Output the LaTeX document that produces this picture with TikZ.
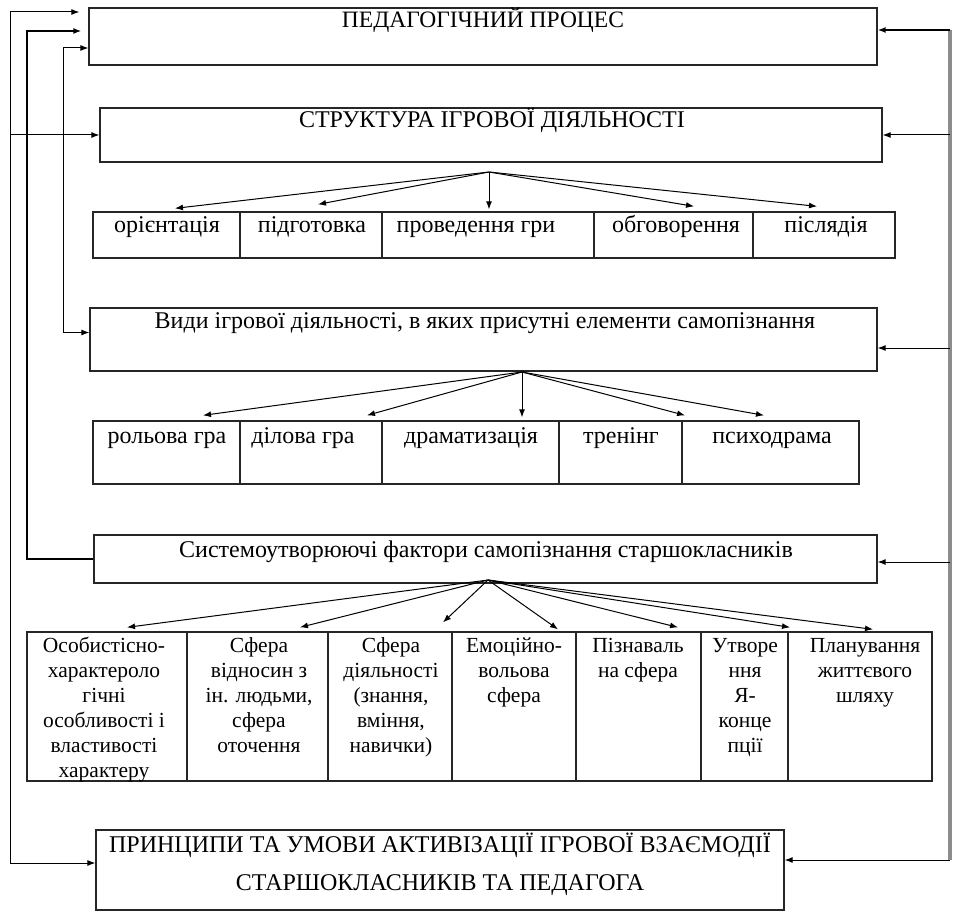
\documentclass[tikz,border=0pt]{standalone}
\usepackage{fontspec}
\setmainfont{Liberation Serif}
\usetikzlibrary{arrows.meta}

\begin{document}
\begin{tikzpicture}[x=1pt, y=-1pt,
	box/.style={draw=black!85, line width=1.3pt, inner sep=0pt},
	txt/.style={anchor=base, inner sep=0pt, font=\fontsize{24}{28}\selectfont},
	cell/.style={anchor=north, inner sep=0pt, align=center, font=\fontsize{21.5}{25}\selectfont},
	arr/.style={-{Latex[length=8pt,width=6pt]}, line width=1pt},
	twoway/.style={{Latex[length=8pt,width=6pt]}-{Latex[length=8pt,width=6pt]}, line width=1pt}]
	\useasboundingbox (0,0) rectangle (957,912);
	\node[box, minimum width=788pt, minimum height=57pt] (proc) at (483,36.5) {};
	\node[box, minimum width=782pt, minimum height=54pt] (struct) at (491,135) {};
		\node[box, minimum width=147pt, minimum height=46pt] (o1) at (166.5,235) {};
		\node[box, minimum width=142pt, minimum height=46pt] (o2) at (311,235) {};
		\node[box, minimum width=212pt, minimum height=46pt] (o3) at (488,235) {};
		\node[box, minimum width=159pt, minimum height=46pt] (o4) at (673.5,235) {};
		\node[box, minimum width=142pt, minimum height=46pt] (o5) at (824,235) {};
	\node[box, minimum width=787pt, minimum height=63pt] (kinds) at (483.5,339.5) {};
		\node[box, minimum width=147pt, minimum height=63pt] (k1) at (166.5,452.5) {};
		\node[box, minimum width=142pt, minimum height=63pt] (k2) at (311,452.5) {};
		\node[box, minimum width=177pt, minimum height=63pt] (k3) at (470.5,452.5) {};
		\node[box, minimum width=123pt, minimum height=63pt] (k4) at (620.5,452.5) {};
		\node[box, minimum width=177pt, minimum height=63pt] (k5) at (770.5,452.5) {};
	\node[box, minimum width=783pt, minimum height=48pt] (sys) at (485.5,559) {};
		\node[box, minimum width=160pt, minimum height=149pt] (s1) at (107,706.5) {};
		\node[box, minimum width=141pt, minimum height=149pt] (s2) at (257.5,706.5) {};
		\node[box, minimum width=124pt, minimum height=149pt] (s3) at (390,706.5) {};
		\node[box, minimum width=124pt, minimum height=149pt] (s4) at (514,706.5) {};
		\node[box, minimum width=125pt, minimum height=149pt] (s5) at (638.5,706.5) {};
		\node[box, minimum width=87pt, minimum height=149pt] (s6) at (744.5,706.5) {};
		\node[box, minimum width=144pt, minimum height=149pt] (s7) at (860,706.5) {};
	\node[box, minimum width=688pt, minimum height=80pt] (princ) at (440,870) {};

	\node[txt, font=\fontsize{23.5}{28}\selectfont] (tproc) at (483,28) {ПЕДАГОГІЧНИЙ ПРОЦЕС};
	\node[txt] (tstruct) at (492,128) {СТРУКТУРА ІГРОВОЇ ДІЯЛЬНОСТІ};
		\node[txt] (to1) at (167,232) {орієнтація};
		\node[txt] (to2) at (312,232) {підготовка};
		\node[txt] (to3) at (476,232) {проведення гри};
		\node[txt] (to4) at (676,232) {обговорення};
		\node[txt] (to5) at (826,232) {післядія};
	\node[txt] (tkinds) at (485,328) {Види ігрової діяльності, в яких присутні елементи самопізнання};
		\node[txt] (tk1) at (167,443) {рольова гра};
		\node[txt] (tk2) at (303,443) {ділова гра};
		\node[txt] (tk3) at (471,443) {драматизація};
		\node[txt] (tk4) at (621,443) {тренінг};
		\node[txt] (tk5) at (772,443) {психодрама};
	\node[txt] (tsys) at (486,557) {Системоутворюючі фактори самопізнання старшокласників};
		\node[cell] (ts1) at (104,634.5) {\strut Особистісно-\\характероло\\гічні\\особливості і\\властивості\\характеру};
		\node[cell] (ts2) at (259,634.5) {\strut Сфера\\відносин з\\ін. людьми,\\сфера\\оточення};
		\node[cell] (ts3) at (391,634.5) {\strut Сфера\\діяльності\\(знання,\\вміння,\\навички)};
		\node[cell] (ts4) at (514,634.5) {\strut Емоційно-\\вольова\\сфера};
		\node[cell] (ts5) at (638,634.5) {\strut Пізнаваль\\на сфера};
		\node[cell] (ts6) at (745,634.5) {\strut Утворе\\ння\\Я-\\конце\\пції};
		\node[cell] (ts7) at (865,634.5) {\strut Планування\\життєвого\\шляху};
	\node[cell, font=\fontsize{24}{38}\selectfont] (tprinc) at (440,825.4) {\strut ПРИНЦИПИ ТА УМОВИ АКТИВІЗАЦІЇ ІГРОВОЇ ВЗАЄМОДІЇ\\СТАРШОКЛАСНИКІВ ТА ПЕДАГОГА};

	\coordinate (la) at (10,12);
	\coordinate (lb) at (10,863);
	\coordinate (lc) at (27,31);
	\coordinate (ld) at (63,48);
	\coordinate (ra) at (950,30);
	\coordinate (rb) at (950,860);
	\coordinate (ek) at ([yshift=-8.5pt]kinds.east);
	\coordinate (es) at ([yshift=-3pt]sys.east);
	\coordinate (ep) at ([yshift=10pt]princ.east);
	\coordinate (wp) at ([yshift=7pt]princ.west);
	\draw[twoway] ([xshift=-9pt]proc.west |- la) -- (la) -- (lb |- wp) -- (wp);
	\draw[arr] (la |- struct.west) -- (struct.west);
	\draw[arr, line width=1.5pt] (sys.west) -| (lc) -- ([xshift=-7pt]proc.west |- lc);
	\draw[twoway] (proc.west |- ld) -- (ld) |- ([yshift=7pt]kinds.west);
	\draw[line width=4pt, black!45] (ra) -- (rb);
	\draw[arr, line width=2.5pt] (ra) -- (proc.east |- ra);
	\draw[arr] (ra |- struct.east) -- (struct.east);
	\draw[arr] (ra |- ek) -- (ek);
	\draw[arr] (ra |- es) -- (es);
	\draw[arr] (ra |- ep) -- (ep);

	\coordinate (f1) at (489,172);
	\draw[arr] (f1) -- ([xshift=8.5pt,yshift=3pt]o1.north);
	\draw[arr] (f1) -- ([xshift=7pt,yshift=7pt]o2.north);
	\draw[arr] (f1) -- ([xshift=1pt,yshift=2pt]o3.north);
	\draw[arr] (f1) -- ([xshift=20.5pt,yshift=5pt]o4.north);
	\draw[arr] (f1) -- ([xshift=-7pt,yshift=5pt]o5.north);
	\coordinate (f2) at (522,372);
	\draw[arr] (f2) -- ([xshift=36.5pt,yshift=5pt]k1.north);
	\draw[arr] (f2) -- ([xshift=56pt,yshift=5pt]k2.north);
	\draw[arr] (f2) -- ([xshift=51.5pt,yshift=3pt]k3.north);
	\draw[arr] (f2) -- ([xshift=64.5pt,yshift=5pt]k4.north);
	\draw[arr] (f2) -- ([xshift=-6.5pt,yshift=5pt]k5.north);
	\coordinate (f3) at (488,580);
	\draw[arr] (f3) -- ([xshift=20pt,yshift=4pt]s1.north);
	\draw[arr] (f3) -- ([xshift=42.5pt,yshift=4pt]s2.north);
	\draw[arr] (f3) -- ([xshift=53pt,yshift=9pt]s3.north);
	\draw[arr] (f3) -- ([xshift=44pt,yshift=2pt]s4.north);
	\draw[arr] (f3) -- ([xshift=39.5pt,yshift=4pt]s5.north);
	\draw[arr] (f3) -- ([xshift=45.5pt,yshift=4pt]s6.north);
	\draw[arr] (f3) -- ([xshift=13pt,yshift=2pt]s7.north);
\end{tikzpicture}
\end{document}
